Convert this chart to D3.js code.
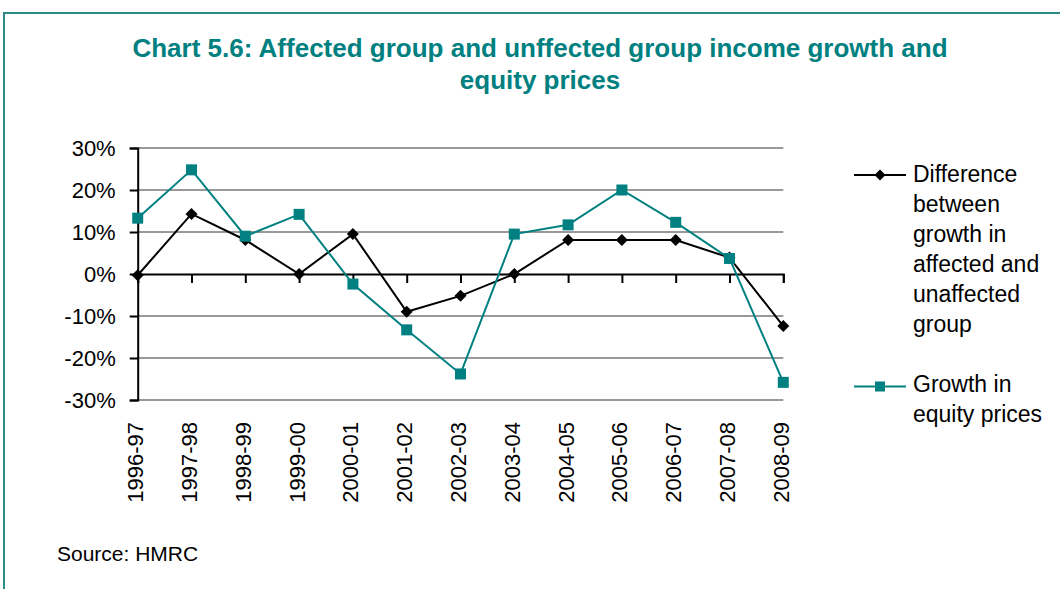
<!DOCTYPE html>
<html><head><meta charset="utf-8">
<script src="https://cdn.jsdelivr.net/npm/d3@7"></script>
<style>body{margin:0;background:#fff;}svg{display:block;font-family:"Liberation Sans",Arial,sans-serif;}</style>
</head><body>
<svg id="c" width="1060" height="589"></svg>
<script>
const categories = ["1996-97","1997-98","1998-99","1999-00","2000-01","2001-02","2002-03","2003-04","2004-05","2005-06","2006-07","2007-08","2008-09"];
const differenceValues = [-0.3, 14.3, 8.1, 0.0, 9.5, -9.0, -5.2, 0.0, 8.1, 8.1, 8.1, 3.9, -12.4];
const equityValues = [13.3, 24.8, 9.0, 14.2, -2.4, -13.3, -23.8, 9.5, 11.7, 20.0, 12.3, 3.7, -25.8];
const yTicks = [30, 20, 10, 0, -10, -20, -30];
const titleLines = ["Chart 5.6: Affected group and unffected group income growth and", "equity prices"];
const legendDiff = ["Difference", "between", "growth in", "affected and", "unaffected", "group"];
const legendEquity = ["Growth in", "equity prices"];
const sourceText = "Source: HMRC";

const TEAL = "#008080";
const FONT = "\"Liberation Sans\",Arial,sans-serif";
const svg = d3.select("#c");

// frame
svg.append("rect").attr("x",4).attr("y",13).attr("width",1080).attr("height",600)
  .attr("fill","none").attr("stroke","#2a8c84").attr("stroke-width",2);

// title
svg.append("text").attr("text-anchor","middle")
  .attr("fill",TEAL).attr("font-weight","bold").attr("font-size",26)
  .selectAll("tspan").data(titleLines).join("tspan")
  .attr("x",540).attr("y",(d,i)=>57+i*32).text(d=>d);

const x = d3.scalePoint().domain(categories).range([137.7, 783.3]);
const y = d3.scaleLinear().domain([-30,30]).range([400,148]);

// gridlines
svg.append("g").selectAll("line").data(yTicks.filter(t=>t!==0)).join("line")
  .attr("x1",137.7).attr("x2",783.3).attr("y1",d=>y(d)).attr("y2",d=>y(d))
  .attr("stroke","#999").attr("stroke-width",1.8);

// y axis
const yAxis = svg.append("g").attr("transform","translate(137.7,0)")
  .call(d3.axisLeft(y).tickValues(yTicks).tickSize(8).tickPadding(14).tickFormat(d=>d+"%"));
yAxis.attr("font-family",FONT);
yAxis.select(".domain").attr("stroke","#000").attr("stroke-width",2);
yAxis.selectAll(".tick line").attr("stroke","#000").attr("stroke-width",2);
yAxis.selectAll("text").attr("font-size",22).attr("fill","#000").attr("dy","0.36em");

// x axis at 0
const xAxis = svg.append("g").attr("transform",`translate(0,${y(0)})`)
  .call(d3.axisBottom(x).tickSize(9).tickFormat(""));
xAxis.select(".domain").attr("stroke","#000").attr("stroke-width",2);
xAxis.selectAll(".tick line").attr("stroke","#000").attr("stroke-width",2);

// x labels rotated
svg.append("g").selectAll("text").data(categories).join("text")
  .attr("transform",d=>`translate(${x(d)+5.5},422) rotate(-90)`)
  .attr("text-anchor","end").attr("font-size",22).attr("fill","#000").text(d=>d);

// series
const line = d3.line().x((d,i)=>x(categories[i])).y(d=>y(d));
svg.append("path").datum(differenceValues).attr("d",line)
  .attr("fill","none").attr("stroke","#000").attr("stroke-width",2);
svg.append("path").datum(equityValues).attr("d",line)
  .attr("fill","none").attr("stroke",TEAL).attr("stroke-width",2);

svg.append("g").selectAll("path").data(differenceValues).join("path")
  .attr("d",d3.symbol().type(d3.symbolSquare).size(72))
  .attr("transform",(d,i)=>`translate(${x(categories[i])},${y(d)}) rotate(45)`)
  .attr("fill","#000");
svg.append("g").selectAll("rect").data(equityValues).join("rect")
  .attr("x",(d,i)=>x(categories[i])-5.5).attr("y",d=>y(d)-5.5)
  .attr("width",11).attr("height",11).attr("fill",TEAL);

// legend
const lg = svg.append("g");
lg.append("line").attr("x1",854).attr("x2",906).attr("y1",175).attr("y2",175).attr("stroke","#000").attr("stroke-width",2);
lg.append("path").attr("d",d3.symbol().type(d3.symbolSquare).size(60)()).attr("transform","translate(880,175) rotate(45)").attr("fill","#000");
lg.append("text").attr("font-size",23).attr("fill","#000")
  .selectAll("tspan").data(legendDiff).join("tspan")
  .attr("x",913).attr("y",(d,i)=>182+i*30).text(d=>d);
lg.append("line").attr("x1",854).attr("x2",906).attr("y1",386.5).attr("y2",386.5).attr("stroke",TEAL).attr("stroke-width",2);
lg.append("rect").attr("x",875).attr("y",381.5).attr("width",10).attr("height",10).attr("fill",TEAL);
lg.append("text").attr("font-size",23).attr("fill","#000")
  .selectAll("tspan").data(legendEquity).join("tspan")
  .attr("x",913).attr("y",(d,i)=>392+i*30).text(d=>d);

// source
svg.append("text").attr("x",57).attr("y",561).attr("font-size",21).attr("fill","#000").text(sourceText);
</script>
</body></html>
